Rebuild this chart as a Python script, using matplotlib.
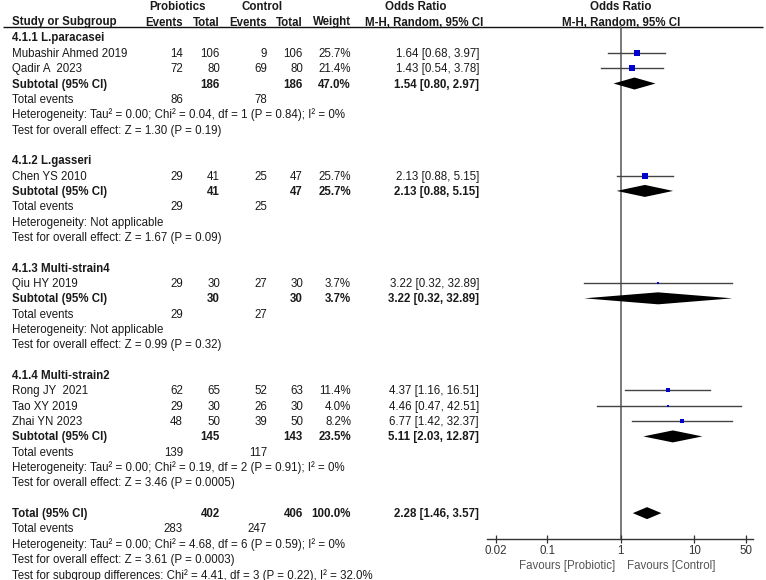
import matplotlib
matplotlib.use("Agg")
import matplotlib.pyplot as plt
import numpy as np

plt.rcParams['font.family'] = ['Liberation Sans', 'DejaVu Sans']

# ---------------- data ----------------
group_names = ["4.1.1 L.paracasei", "4.1.2 L.gasseri", "4.1.3 Multi-strain4", "4.1.4 Multi-strain2"]
studies = ["Mubashir Ahmed 2019", "Qadir A  2023", "Chen YS 2010", "Qiu HY 2019",
           "Rong JY  2021", "Tao XY 2019", "Zhai YN 2023"]
study_group = [0, 0, 1, 2, 3, 3, 3]
ev_pro = [14, 72, 29, 29, 62, 29, 48]
tot_pro = [106, 80, 41, 30, 65, 30, 50]
ev_con = [9, 69, 25, 27, 52, 26, 39]
tot_con = [106, 80, 47, 30, 63, 30, 50]
weights = [25.7, 21.4, 25.7, 3.7, 11.4, 4.0, 8.2]
or_est = [1.64, 1.43, 2.13, 3.22, 4.37, 4.46, 6.77]
or_lo = [0.68, 0.54, 0.88, 0.32, 1.16, 0.47, 1.42]
or_hi = [3.97, 3.78, 5.15, 32.89, 16.51, 42.51, 32.37]

sub_tot_pro = [186, 41, 30, 145]
sub_tot_con = [186, 47, 30, 143]
sub_weight = [47.0, 25.7, 3.7, 23.5]
sub_ev_pro = [86, 29, 29, 139]
sub_ev_con = [78, 25, 27, 117]
sub_or = [1.54, 2.13, 3.22, 5.11]
sub_lo = [0.80, 0.88, 0.32, 2.03]
sub_hi = [2.97, 5.15, 32.89, 12.87]
sub_het = ["Heterogeneity: Tau\u00b2 = 0.00; Chi\u00b2 = 0.04, df = 1 (P = 0.84); I\u00b2 = 0%",
           "Heterogeneity: Not applicable",
           "Heterogeneity: Not applicable",
           "Heterogeneity: Tau\u00b2 = 0.00; Chi\u00b2 = 0.19, df = 2 (P = 0.91); I\u00b2 = 0%"]
sub_test = ["Test for overall effect: Z = 1.30 (P = 0.19)",
            "Test for overall effect: Z = 1.67 (P = 0.09)",
            "Test for overall effect: Z = 0.99 (P = 0.32)",
            "Test for overall effect: Z = 3.46 (P = 0.0005)"]

total_pro = 402
total_con = 406
total_weight = 100.0
total_ev_pro = 283
total_ev_con = 247
total_or, total_lo, total_hi = 2.28, 1.46, 3.57
total_het = "Heterogeneity: Tau\u00b2 = 0.00; Chi\u00b2 = 4.68, df = 6 (P = 0.59); I\u00b2 = 0%"
total_test = "Test for overall effect: Z = 3.61 (P = 0.0003)"
subgroup_test = "Test for subgroup differences: Chi\u00b2 = 4.41, df = 3 (P = 0.22), I\u00b2 = 32.0%"

tick_vals = [0.02, 0.1, 1, 10, 50]
tick_labels = ["0.02", "0.1", "1", "10", "50"]
fav_left = "Favours [Probiotic]"
fav_right = "Favours [Control]"

# ---------------- layout ----------------
W, H = 766, 580
fig = plt.figure(figsize=(W / 100, H / 100), dpi=100)
ax = fig.add_axes([0, 0, 1, 1])
ax.set_xlim(0, W)
ax.set_ylim(H, 0)
ax.axis('off')

FS = 8.3
TC = '#1a1a1a'
y0, pitch = 37.5, 15.343
BL = 4.0  # baseline offset from row centre

x_name = 12
x_ep, x_tp, x_ec, x_tc, x_w, x_or = 183, 220, 267, 303, 351, 479

# forest axes: pixel = 620.7 + 73.6*log10(x)
px1, ppd = 620.7, 73.6
fx0, fx1 = 487, 753
fax = fig.add_axes([fx0 / W, 0, (fx1 - fx0) / W, 1])
fax.set_xscale('log')
fax.set_xlim(10 ** ((fx0 - px1) / ppd), 10 ** ((fx1 - px1) / ppd))
fax.set_ylim(H, 0)
fax.patch.set_alpha(0)
for s in ['top', 'left', 'right']:
    fax.spines[s].set_visible(False)
axis_y = 539
fax.spines['bottom'].set_position(('data', axis_y))
fax.spines['bottom'].set_color('#333333')
fax.spines['bottom'].set_linewidth(1.0)
fax.set_yticks([])
fax.set_xticks(tick_vals)
fax.set_xticklabels(tick_labels)
fax.minorticks_off()
fax.tick_params(axis='x', direction='inout', length=5.5, width=0.9, color='#333333',
                labelsize=FS, labelcolor='#333333', pad=1.5)


def txt(x, y, s, ha='left', bold=False, color=TC):
    ax.text(x, y + BL, s, ha=ha, va='baseline', fontsize=FS,
            fontweight='bold' if bold else 'normal', color=color)


# headers
ax.text(178, 10, "Probiotics", ha='center', va='baseline', fontsize=FS, fontweight='bold', color=TC)
ax.text(262, 10, "Control", ha='center', va='baseline', fontsize=FS, fontweight='bold', color=TC)
ax.text(416, 10, "Odds Ratio", ha='center', va='baseline', fontsize=FS, fontweight='bold', color=TC)
ax.text(621, 10, "Odds Ratio", ha='center', va='baseline', fontsize=FS, fontweight='bold', color=TC)
hb = 25.5
for x, s, ha in [(x_name, "Study or Subgroup", 'left'), (x_ep, "Events", 'right'),
                 (x_tp, "Total", 'right'), (x_ec, "Events", 'right'), (x_tc, "Total", 'right'),
                 (x_w, "Weight", 'right'), (424, "M-H, Random, 95% CI", 'center'),
                 (621, "M-H, Random, 95% CI", 'center')]:
    ax.text(x, hb, s, ha=ha, va='baseline', fontsize=FS, fontweight='bold', color=TC)
ax.plot([3, 763], [26.8, 26.8], color='#111111', lw=1.0, solid_capstyle='butt')

# vertical line at OR = 1
fax.plot([1, 1], [26.8, axis_y], color='#555555', lw=1.1, zorder=1)

CI_C = '#444444'
SQ_C = '#0000cc'
DH = 6.0


def row_y(i):
    return y0 + i * pitch


def diamond(est, lo, hi, y):
    fax.fill([lo, est, hi, est], [y, y - DH, y, y + DH], color='black', lw=0, zorder=3)


line = 0
for g, gname in enumerate(group_names):
    txt(x_name, row_y(line), gname, bold=True)
    line += 1
    for i in [k for k in range(len(studies)) if study_group[k] == g]:
        y = row_y(line)
        txt(x_name, y, studies[i])
        txt(x_ep, y, str(ev_pro[i]), ha='right')
        txt(x_tp, y, str(tot_pro[i]), ha='right')
        txt(x_ec, y, str(ev_con[i]), ha='right')
        txt(x_tc, y, str(tot_con[i]), ha='right')
        txt(x_w, y, f"{weights[i]:.1f}%", ha='right')
        txt(x_or, y, f"{or_est[i]:.2f} [{or_lo[i]:.2f}, {or_hi[i]:.2f}]", ha='right')
        fax.plot([or_lo[i], or_hi[i]], [y, y], color=CI_C, lw=1.0, zorder=2)
        side_pt = 1.1 * np.sqrt(weights[i]) * 0.72
        fax.scatter([or_est[i]], [y], marker='s', s=side_pt ** 2, color=SQ_C, lw=0, zorder=4)
        line += 1
    y = row_y(line)
    txt(x_name, y, "Subtotal (95% CI)", bold=True)
    txt(x_tp, y, str(sub_tot_pro[g]), ha='right', bold=True)
    txt(x_tc, y, str(sub_tot_con[g]), ha='right', bold=True)
    txt(x_w, y, f"{sub_weight[g]:.1f}%", ha='right', bold=True)
    txt(x_or, y, f"{sub_or[g]:.2f} [{sub_lo[g]:.2f}, {sub_hi[g]:.2f}]", ha='right', bold=True)
    diamond(sub_or[g], sub_lo[g], sub_hi[g], y)
    line += 1
    y = row_y(line)
    txt(x_name, y, "Total events")
    txt(x_ep, y, str(sub_ev_pro[g]), ha='right')
    txt(x_ec, y, str(sub_ev_con[g]), ha='right')
    line += 1
    txt(x_name, row_y(line), sub_het[g])
    line += 1
    txt(x_name, row_y(line), sub_test[g])
    line += 2

y = row_y(line)
txt(x_name, y, "Total (95% CI)", bold=True)
txt(x_tp, y, str(total_pro), ha='right', bold=True)
txt(x_tc, y, str(total_con), ha='right', bold=True)
txt(x_w, y, f"{total_weight:.1f}%", ha='right', bold=True)
txt(x_or, y, f"{total_or:.2f} [{total_lo:.2f}, {total_hi:.2f}]", ha='right', bold=True)
diamond(total_or, total_lo, total_hi, y)
line += 1
y = row_y(line)
txt(x_name, y, "Total events")
txt(x_ep, y, str(total_ev_pro), ha='right')
txt(x_ec, y, str(total_ev_con), ha='right')
line += 1
txt(x_name, row_y(line), total_het)
line += 1
txt(x_name, row_y(line), total_test)
line += 1
txt(x_name, row_y(line), subgroup_test)

# favours labels
ax.text(615, 565 + BL, fav_left, ha='right', va='baseline', fontsize=FS, color='#555555')
ax.text(627, 565 + BL, fav_right, ha='left', va='baseline', fontsize=FS, color='#555555')

fig.savefig("out.png", dpi=100)
